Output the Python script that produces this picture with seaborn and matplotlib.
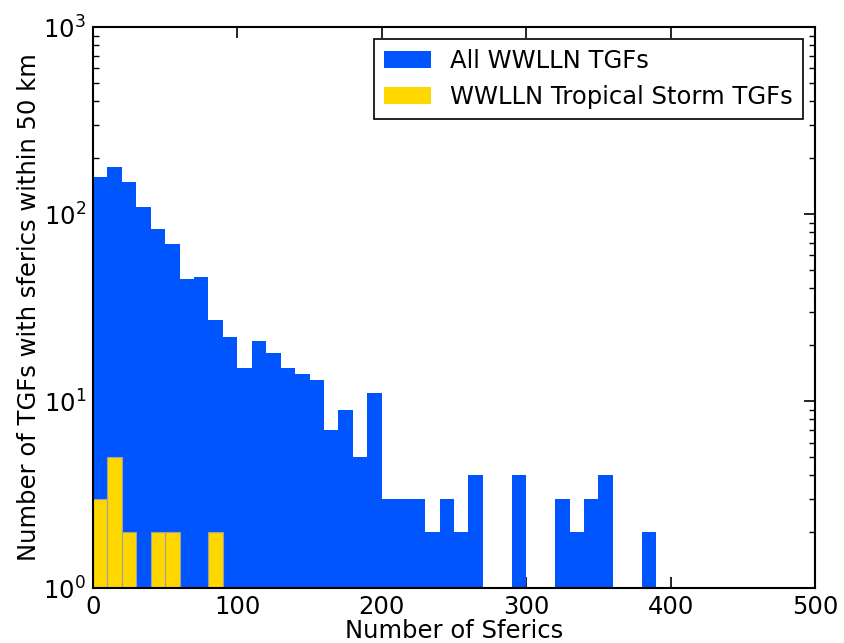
import numpy as np
import pandas as pd
import matplotlib
matplotlib.use('Agg')
import matplotlib.pyplot as plt
import seaborn as sns

# bin left edges (width 10) and counts
bin_edges = np.arange(0, 510, 10)
all_counts = [158, 178, 148, 109, 83, 69, 45, 46, 27, 22,
              15, 21, 18, 15, 14, 13, 7, 9, 5, 11,
              3, 3, 3, 2, 3, 2, 4, 0, 0, 4,
              0, 0, 3, 2, 3, 4, 0, 0, 2, 0,
              0, 0, 0, 0, 0, 0, 0, 0, 0, 0]
storm_counts = [3, 5, 2, 0, 2, 2, 0, 0, 2, 0] + [0] * 40

centers = bin_edges[:-1] + 5
df_all = pd.DataFrame({'sferics': centers, 'count': all_counts})
df_storm = pd.DataFrame({'sferics': centers, 'count': storm_counts})

sns.set_style('ticks')
plt.rcParams['font.family'] = ['DejaVu Sans']
plt.rcParams['text.color'] = 'black'
plt.rcParams['axes.labelcolor'] = 'black'
plt.rcParams['xtick.color'] = 'black'
plt.rcParams['ytick.color'] = 'black'

fs = 17.5

fig = plt.figure(figsize=(8.45, 6.43), dpi=100)
ax = fig.add_axes([0.110, 0.0855, 0.8545, 0.8725])

sns.histplot(data=df_all, x='sferics', weights='count', binwidth=10, binrange=(0, 500),
             color='#0055ff', alpha=1, edgecolor='#0055ff', linewidth=0,
             label='All WWLLN TGFs', ax=ax)
sns.histplot(data=df_storm, x='sferics', weights='count', binwidth=10, binrange=(0, 500),
             color='#ffd700', alpha=1, edgecolor='#a0a0a0', linewidth=0.8,
             label='WWLLN Tropical Storm TGFs', ax=ax)

ax.set_yscale('log')
ax.set_ylim(1, 1000)
ax.set_xlim(0, 500)
ax.set_xticks([0, 100, 200, 300, 400, 500])
ax.set_xlabel('Number of Sferics', fontsize=fs, labelpad=0)
ax.set_ylabel('Number of TGFs with sferics within 50 km', fontsize=fs, labelpad=2)

for s in ax.spines.values():
    s.set_linewidth(1.5)
    s.set_color('black')
ax.tick_params(which='both', direction='in', top=True, right=True, labelsize=fs)
ax.tick_params(which='major', length=8, width=1.2, pad=5)
ax.tick_params(which='minor', length=4, width=1)
ax.tick_params(axis='x', which='minor', bottom=False, top=False)

leg = ax.legend(loc='upper right', fontsize=fs, frameon=True, fancybox=False,
                edgecolor='black', framealpha=1, handlelength=1.95,
                borderaxespad=0.5)
leg.get_frame().set_linewidth(1.2)
for h in leg.legend_handles:
    h.set_linewidth(0)

fig.savefig('out.png', dpi=100)
